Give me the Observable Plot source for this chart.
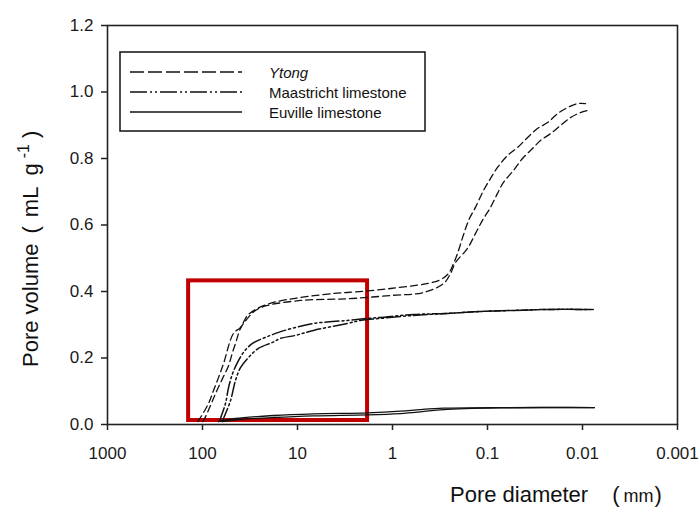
<!DOCTYPE html>
<html>
<head>
<meta charset="utf-8">
<script src="https://cdn.jsdelivr.net/npm/d3@7"></script>
<script src="https://cdn.jsdelivr.net/npm/@observablehq/plot@0.6"></script>
<style>
  html, body { margin: 0; padding: 0; background: #fff; }
  svg { display: block; }
</style>
</head>
<body>
<script>
// ---- data (pore diameter in mm, cumulative pore volume in mL/g) ----
const xTicks = [1000, 100, 10, 1, 0.1, 0.01, 0.001];
const xTickLabels = ["1000", "100", "10", "1", "0.1", "0.01", "0.001"];
const yTicks = [0, 0.2, 0.4, 0.6, 0.8, 1.0, 1.2];

const seriesNames = ["Ytong", "Maastricht limestone", "Euville limestone"];

const ytongA = [[112,0.009],[105,0.021],[86.5,0.063],[76.6,0.102],[67.9,0.141],[60.1,0.183],[47.2,0.274],[39.8,0.292],[33.6,0.328],[26.4,0.349],[17.9,0.367],[9.3,0.382],[4.18,0.394],[2.98,0.397],[1.05,0.409],[0.328,0.433],[0.258,0.454],[0.228,0.484],[0.207,0.514],[0.183,0.562],[0.158,0.614],[0.134,0.653],[0.110,0.704],[0.0929,0.740],[0.0785,0.773],[0.0615,0.809],[0.0483,0.833],[0.0379,0.863],[0.0298,0.890],[0.0233,0.908],[0.0183,0.935],[0.0144,0.953],[0.0113,0.965],[0.0093,0.965]];
const ytongB = [[100,0.009],[97.6,0.012],[82.4,0.057],[72.9,0.093],[61.6,0.138],[53.2,0.177],[48.3,0.217],[43.9,0.253],[39.8,0.289],[33.6,0.319],[27.7,0.343],[20.7,0.358],[9.3,0.373],[4.18,0.377],[2.98,0.378],[1.05,0.388],[0.472,0.397],[0.290,0.424],[0.245,0.454],[0.217,0.487],[0.163,0.529],[0.134,0.574],[0.113,0.614],[0.0929,0.653],[0.0785,0.695],[0.0679,0.728],[0.0532,0.764],[0.0428,0.800],[0.0336,0.830],[0.0277,0.854],[0.0217,0.875],[0.0171,0.899],[0.0134,0.923],[0.0105,0.938],[0.0082,0.947]];
const maastrichtA = [[66,0.010],[64.7,0.018],[57.3,0.063],[53.2,0.111],[48.3,0.153],[42.9,0.186],[37.0,0.217],[29.8,0.244],[21.7,0.262],[15.8,0.277],[10.5,0.292],[6.8,0.304],[2.98,0.313],[1.83,0.319],[1.34,0.322],[0.601,0.331],[0.264,0.334],[0.118,0.340],[0.0532,0.343],[0.0233,0.346],[0.0077,0.346]];
const maastrichtB = [[62,0.009],[60.1,0.018],[50.7,0.072],[45.0,0.132],[39.8,0.171],[32.8,0.2015],[25.8,0.229],[18.3,0.247],[15.1,0.259],[10.5,0.268],[6.8,0.283],[2.98,0.304],[2.17,0.313],[1.34,0.319],[0.601,0.328],[0.264,0.334],[0.118,0.340],[0.0532,0.343],[0.0233,0.346],[0.0077,0.346]];
const euvilleA = [[67.9,0.009],[45.0,0.018],[17.9,0.027],[6.8,0.032],[1.83,0.035],[0.824,0.040],[0.507,0.045],[0.290,0.049],[0.073,0.051],[0.0075,0.051]];
const euvilleB = [[61.6,0.009],[39.8,0.015],[17.9,0.021],[6.8,0.026],[1.83,0.029],[0.824,0.033],[0.507,0.038],[0.290,0.045],[0.073,0.050],[0.0075,0.051]];

// highlighted region (diameter and volume bounds)
const highlightX = [140, 1.83];
const highlightY = [0.012, 0.432];

// ---- build tables ----
const toRows = (arr, series, rep) => arr.map(([d, v]) => ({d, v, series, rep}));
const ytongRows = [...toRows(ytongA, seriesNames[0], "a"), ...toRows(ytongB, seriesNames[0], "b")];
const maasRows = [...toRows(maastrichtA, seriesNames[1], "a"), ...toRows(maastrichtB, seriesNames[1], "b")];
const euvRows = [...toRows(euvilleA, seriesNames[2], "a"), ...toRows(euvilleB, seriesNames[2], "b")];
const highlight = [{x1: highlightX[0], x2: highlightX[1], y1: highlightY[0], y2: highlightY[1]}];

const FONT = "'Liberation Sans', Arial, Helvetica, sans-serif";
const INK = "#111";
const dashYtong = "7,4";
const dashMaas = "14,3,2,3,2,3";

const lineOpts = {x: "d", y: "v", z: "rep", stroke: INK, strokeWidth: 1.3, curve: "catmull-rom"};

const svg = Plot.plot({
  width: 700,
  height: 507,
  marginLeft: 107,
  marginRight: 23,
  marginTop: 25,
  marginBottom: 83,
  style: {fontFamily: FONT, fontSize: "17px", color: "#1a1a1a", background: "#fff", overflow: "visible"},
  x: {type: "log", domain: [1000, 0.001], label: null},
  y: {domain: [0, 1.2], label: null},
  marks: [
    Plot.rect(highlight, {x1: "x1", x2: "x2", y1: "y1", y2: "y2", fill: "none", stroke: "#c00000", strokeWidth: 4}),
    Plot.line(euvRows, {...lineOpts}),
    Plot.line(maasRows, {...lineOpts, strokeDasharray: dashMaas, strokeWidth: 1.5}),
    Plot.line(ytongRows, {...lineOpts, strokeDasharray: dashYtong}),
    Plot.frame({stroke: "#222", strokeWidth: 1.6}),
    Plot.axisX({ticks: xTicks, tickFormat: d => xTickLabels[xTicks.indexOf(d)], tickSize: 6, tickPadding: 16, fontSize: 17, stroke: "#222", strokeWidth: 1.5, label: null}),
    Plot.axisY({ticks: yTicks, tickFormat: d3.format(".1f"), tickSize: 6, tickPadding: 8, fontSize: 17, stroke: "#222", strokeWidth: 1.5, label: null})
  ]
});

const root = d3.select(svg);

// ---- legend ----
const lg = root.append("g").attr("font-family", FONT).attr("font-size", 15).attr("fill", INK).attr("text-anchor", "start");
lg.append("rect").attr("x", 120).attr("y", 52).attr("width", 305).attr("height", 79)
  .attr("fill", "#fff").attr("stroke", "#111").attr("stroke-width", 1.5);
const legendRows = [
  {name: seriesNames[0], dash: "14,4", italic: true},
  {name: seriesNames[1], dash: "17,3,2,3,2,3", italic: false},
  {name: seriesNames[2], dash: null, italic: false}
];
legendRows.forEach((r, i) => {
  const y = 72 + i * 20;
  const ln = lg.append("line").attr("x1", 130).attr("x2", 242).attr("y1", y).attr("y2", y)
    .attr("stroke", INK).attr("stroke-width", 1.4);
  if (r.dash) ln.attr("stroke-dasharray", r.dash);
  lg.append("text").attr("x", 269).attr("y", y + 5.5).attr("text-anchor", "start")
    .attr("font-style", r.italic ? "italic" : "normal").text(r.name);
});

// ---- axis titles ----
const xt = root.append("text").attr("x", 450).attr("y", 502).attr("text-anchor", "start")
  .attr("font-family", FONT).attr("font-size", 22).attr("fill", INK);
xt.append("tspan").text("Pore diameter");
xt.append("tspan").attr("dx", 24).text("(");
xt.append("tspan").attr("dx", 4).attr("font-size", 18).text("mm");
xt.append("tspan").attr("dx", 1).text(")");

const yt = root.append("text").attr("transform", "translate(38,367) rotate(-90)").attr("text-anchor", "start")
  .attr("font-family", FONT).attr("font-size", 22).attr("fill", INK);
yt.append("tspan").text("Pore volume");
yt.append("tspan").attr("dx", 10).text("(");
yt.append("tspan").attr("dx", 9).text("mL");
yt.append("tspan").attr("dx", 11).text("g");
yt.append("tspan").attr("dx", 5).attr("font-size", 16).attr("dy", -9).text("-1");
yt.append("tspan").attr("dx", 6).attr("dy", 9).text(")");

document.body.appendChild(svg);
</script>
</body>
</html>
